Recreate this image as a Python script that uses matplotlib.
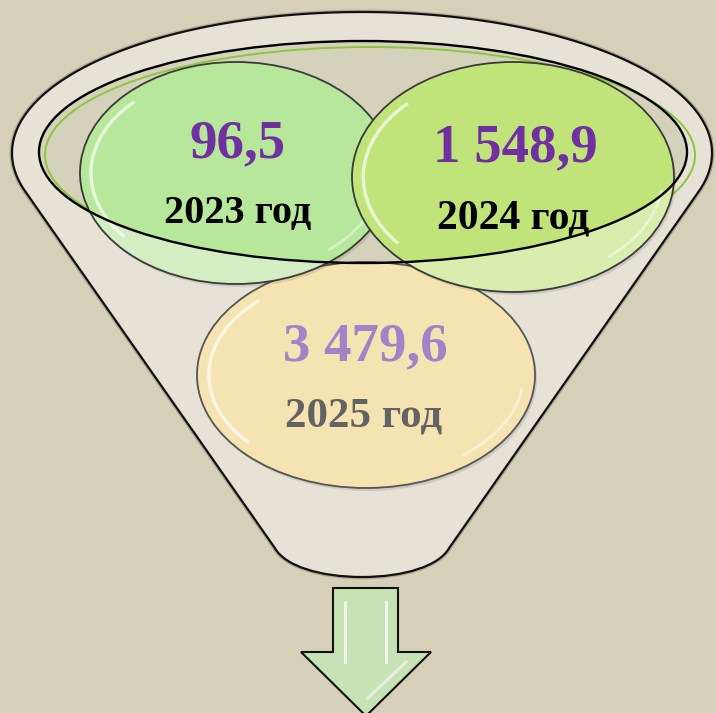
import numpy as np
import matplotlib
matplotlib.use('Agg')
import matplotlib.pyplot as plt
from matplotlib.patches import Ellipse, PathPatch, Polygon, Arc
from matplotlib.path import Path

# ---- data ----
years = ['2023 год', '2024 год', '2025 год']
values = [96.5, 1548.9, 3479.6]
value_colors = ['#7030A0', '#7030A0', '#A680C9']
year_colors = ['#000000', '#000000', '#636363']

def fmt(v):
    return f"{v:,.1f}".replace(',', ' ').replace('.', ',')

# ---- layout (pixel space) ----
W, H = 716, 713
BG = '#D7D0B9'
fig = plt.figure(figsize=(7.16, 7.13), dpi=100)
fig.patch.set_facecolor(BG)
ax = fig.add_axes([0, 0, 1, 1])
ax.set_xlim(0, W)
ax.set_ylim(H, 0)
ax.axis('off')
ax.set_facecolor(BG)

# funnel body
cx, cy, a, b = 362, 153, 350, 141
s = 0.70
tt = np.arctan(s * b / a)
theta = np.linspace(np.pi + tt, -tt, 300)
xs = cx + a * np.cos(theta)
ys = cy - b * np.sin(theta)
yb = 548
x_r = xs[-1] - s * (yb - ys[-1])
x_l = xs[0] + s * (yb - ys[0])
verts = list(zip(xs, ys))
codes = [Path.MOVETO] + [Path.LINETO] * (len(verts) - 1)
verts += [(x_r, yb), (x_r - 10, 566), (404, 577), (362, 577),
          (320, 577), (x_l + 10, 566), (x_l, yb), (0, 0)]
codes += [Path.LINETO, Path.CURVE4, Path.CURVE4, Path.CURVE4,
          Path.CURVE4, Path.CURVE4, Path.CURVE4, Path.CLOSEPOLY]
fpath = Path(verts, codes)
ax.add_patch(PathPatch(fpath, facecolor='none', edgecolor='#000000', lw=3.5, alpha=0.18, zorder=1))
ax.add_patch(PathPatch(fpath, facecolor='#E6E2D5', edgecolor='#111111', lw=1.6, zorder=1.1))

# inner rim
inner_c, inner_w, inner_h = (363, 152), 648, 222
inner_fill = Ellipse(inner_c, inner_w, inner_h, facecolor='#D5D2BC', edgecolor='none', zorder=2)
ax.add_patch(inner_fill)
ax.add_patch(Ellipse((370, 155), 650, 216, fill=False, edgecolor='#8CC63F', lw=1.4, zorder=2.5))

# bubbles
centers = [(236, 173), (513, 177), (366, 375)]
sizes = [(312, 222), (322, 230), (338, 226)]
bright = ['#B6E79A', '#C1E47A', '#F5E4B1']
pale = ['#D4EDC2', '#D9EDAE', '#F5E4B1']

for i in [2, 0, 1]:
    (ex, ey), (w, h) = centers[i], sizes[i]
    z = {2: 3, 0: 4, 1: 5}[i]
    ax.add_patch(Ellipse((ex + 2, ey + 3), w, h, facecolor='#000000', alpha=0.10, edgecolor='none', zorder=z - 0.05))
    ax.add_patch(Ellipse((ex, ey), w, h, facecolor=pale[i], edgecolor='none', zorder=z))
    if i != 2:
        e = Ellipse((ex, ey), w, h, facecolor=bright[i], edgecolor='none', zorder=z + 0.1)
        ax.add_patch(e)
        e.set_clip_path(inner_fill)
    ax.add_patch(Arc((ex, ey), w * 0.93, h * 0.9, theta1=150, theta2=215, color='white', lw=2.5, alpha=0.65, zorder=z + 0.2))
    ax.add_patch(Arc((ex, ey), w * 0.93, h * 0.9, theta1=5, theta2=40, color='white', lw=2.0, alpha=0.45, zorder=z + 0.2))
    ax.add_patch(Ellipse((ex, ey), w, h, fill=False, edgecolor='#3A3A3A' if i != 2 else '#555555', lw=1.3, zorder=z + 0.3))

ax.add_patch(Ellipse(inner_c, inner_w, inner_h, fill=False, edgecolor='#000000', lw=1.7, zorder=8))

# texts
serif = ['Liberation Serif', 'DejaVu Serif']
val_pos = [(238, 157), (515, 161), (365, 360)]
year_pos = [(238, 223), (513, 228), (364, 427)]
val_size = [39.5, 39.5, 39.5]
year_size = [29, 30, 31]
for i in range(3):
    ax.text(*val_pos[i], fmt(values[i]), ha='center', va='baseline', fontsize=val_size[i],
            fontweight='bold', family=serif, color=value_colors[i], zorder=10)
    ax.text(*year_pos[i], years[i], ha='center', va='baseline', fontsize=year_size[i],
            fontweight='bold', family=serif, color=year_colors[i], zorder=10)

# arrow
arrow = [(333, 588), (398, 588), (398, 652), (431, 652), (366, 716), (301, 652), (333, 652)]
ax.add_patch(Polygon(arrow, closed=True, facecolor='#C7E2B4', edgecolor='#111111', lw=1.5, zorder=3))
ax.plot([345, 345], [602, 662], color='white', lw=2.2, alpha=0.75, zorder=3.1)
ax.plot([386, 386], [602, 662], color='white', lw=2.2, alpha=0.75, zorder=3.1)
ax.plot([368, 406], [698, 662], color='white', lw=2.2, alpha=0.55, zorder=3.1)

fig.savefig('out.png', dpi=100, facecolor=BG)
